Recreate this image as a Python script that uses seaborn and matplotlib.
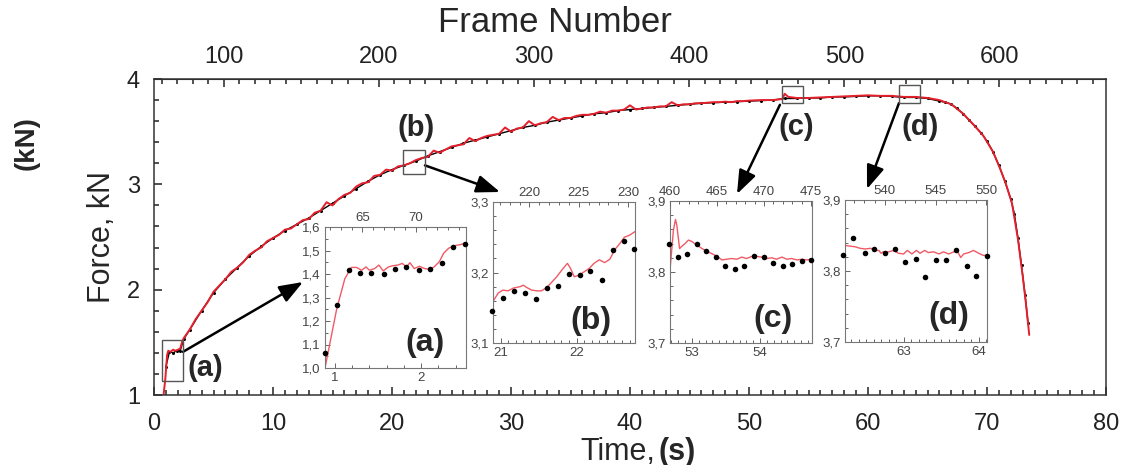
import seaborn as sns
import matplotlib.pyplot as plt
from matplotlib.patches import Rectangle
from matplotlib.ticker import MultipleLocator, FixedLocator, FuncFormatter

# ---- main curve: continuous force signal (red) ----
time_red = [0.80, 0.95, 1.10, 1.20, 1.40, 1.60, 1.80, 2.00, 2.20, 2.35,
            2.5, 3.0, 3.5, 4.0, 4.5, 5.0, 5.5, 6.0, 6.5, 7.0, 7.5, 8.0, 8.5, 9.0, 9.5,
            10.0, 10.5, 11.0, 11.5, 12.0, 12.5, 13.0, 13.5, 14.0, 14.5, 15.0, 15.5,
            16.0, 16.5, 17.0, 17.5, 18.0, 18.5, 19.0, 19.5, 20.0, 20.5, 21.0, 21.5,
            22.0, 22.5, 23.0, 23.5, 24.0, 24.5, 25.0, 25.5, 26.0, 26.5, 27.0, 27.5,
            28.0, 28.5, 29.0, 29.5, 30.0, 30.5, 31.0, 31.5, 32.0, 32.5, 33.0, 33.5,
            34.0, 34.5, 35.0, 35.5, 36.0, 36.5, 37.0, 37.5, 38.0, 38.5, 39.0, 39.5,
            40.0, 40.5, 41.0, 41.5, 42.0, 42.5, 43.0, 43.5, 44.0, 44.5, 45.0, 45.5,
            46.0, 46.5, 47.0, 47.5, 48.0, 48.5, 49.0, 49.5, 50.0, 51.0, 52.0, 52.8,
            53.0, 53.3, 54.0, 55.0, 56.0, 57.0, 58.0, 59.0, 60.0, 61.0, 62.0, 63.0,
            64.0, 65.0, 66.0, 67.0, 68.0, 69.0, 69.7, 70.5, 71.1, 71.6, 72.1, 72.6,
            73.0, 73.3, 73.55]
force_red = [1.00, 1.15, 1.38, 1.42, 1.41, 1.43, 1.42, 1.43, 1.44, 1.50,
             1.54, 1.62, 1.72, 1.80, 1.88, 1.98, 2.04, 2.10, 2.17, 2.21, 2.26, 2.33, 2.37, 2.40, 2.46,
             2.49, 2.52, 2.57, 2.58, 2.62, 2.66, 2.67, 2.73, 2.75, 2.83, 2.80, 2.86,
             2.90, 2.92, 2.98, 3.01, 3.02, 3.08, 3.09, 3.14, 3.13, 3.17, 3.18, 3.20,
             3.23, 3.25, 3.26, 3.32, 3.30, 3.33, 3.36, 3.37, 3.38, 3.44, 3.41, 3.44,
             3.46, 3.47, 3.48, 3.54, 3.50, 3.53, 3.54, 3.60, 3.56, 3.58, 3.59, 3.64,
             3.61, 3.63, 3.63, 3.65, 3.66, 3.66, 3.67, 3.69, 3.68, 3.70, 3.70, 3.71,
             3.75, 3.71, 3.72, 3.73, 3.73, 3.74, 3.74, 3.78, 3.75, 3.76, 3.76, 3.77,
             3.77, 3.775, 3.78, 3.78, 3.785, 3.78, 3.79, 3.79, 3.795, 3.80, 3.80, 3.81,
             3.86, 3.83, 3.82, 3.82, 3.825, 3.83, 3.835, 3.84, 3.845, 3.84, 3.84, 3.83,
             3.83, 3.82, 3.80, 3.76, 3.67, 3.55, 3.46, 3.31, 3.15, 3.00, 2.82, 2.48,
             2.13, 1.84, 1.57]

# ---- main curve: frame-by-frame force (black) ----
time_black = [1.0, 1.3, 1.6, 1.9, 2.2, 2.5, 3, 4, 5, 6, 7, 8, 9, 10, 11, 12, 13, 14, 15,
              16, 17, 18, 19, 20, 21, 22, 23, 24, 25, 26, 27, 28, 29, 30, 31, 32, 33,
              34, 35, 36, 37, 38, 39, 40, 41, 42, 43, 44, 45, 46, 47, 48, 49, 50, 51,
              52, 53, 54, 55, 56, 57, 58, 59, 60, 61, 62, 63, 64, 65, 66, 66.5, 67,
              67.5, 68, 68.5, 69, 69.5, 70, 70.5, 71, 71.5, 72, 72.3, 72.6, 72.9,
              73.2, 73.45]
force_black = [1.27, 1.41, 1.40, 1.42, 1.42, 1.53, 1.62, 1.80, 1.97, 2.10, 2.21, 2.32,
               2.41, 2.49, 2.56, 2.62, 2.68, 2.75, 2.82, 2.89, 2.96, 3.03, 3.09, 3.14,
               3.18, 3.22, 3.27, 3.31, 3.35, 3.39, 3.42, 3.45, 3.48, 3.51, 3.54, 3.56,
               3.59, 3.61, 3.63, 3.65, 3.67, 3.68, 3.70, 3.71, 3.72, 3.73, 3.74, 3.75,
               3.76, 3.77, 3.775, 3.78, 3.785, 3.79, 3.795, 3.80, 3.815, 3.815, 3.82,
               3.82, 3.83, 3.83, 3.835, 3.84, 3.84, 3.835, 3.825, 3.825, 3.815, 3.79,
               3.78, 3.76, 3.72, 3.67, 3.61, 3.55, 3.49, 3.41, 3.31, 3.18, 3.03, 2.86,
               2.72, 2.49, 2.23, 1.95, 1.68]

# ---- inset (a) ----
a_line_t = [0.885, 1.02, 1.115, 1.19, 1.25, 1.31, 1.36, 1.40, 1.46, 1.51, 1.56, 1.62,
            1.67, 1.73, 1.78, 1.83, 1.87, 1.92, 1.98, 2.04, 2.10, 2.15, 2.21, 2.26,
            2.32, 2.38, 2.44, 2.52]
a_line_f = [1.00, 1.25, 1.38, 1.428, 1.428, 1.416, 1.43, 1.416, 1.423, 1.438, 1.413,
            1.43, 1.435, 1.438, 1.445, 1.43, 1.448, 1.423, 1.433, 1.423, 1.42, 1.43,
            1.452, 1.488, 1.51, 1.52, 1.524, 1.531]
a_dot_t = [0.885, 1.02, 1.16, 1.29, 1.42, 1.57, 1.70, 1.83, 1.97, 2.10, 2.24, 2.37, 2.51]
a_dot_f = [1.065, 1.268, 1.416, 1.405, 1.405, 1.40, 1.42, 1.43, 1.416, 1.42, 1.445,
           1.514, 1.528]

# ---- inset (b) ----
b_line_t = [20.90, 20.97, 21.03, 21.10, 21.17, 21.26, 21.30, 21.34, 21.41, 21.48,
            21.54, 21.61, 21.68, 21.74, 21.81, 21.88, 21.92, 21.97, 22.03, 22.10,
            22.17, 22.23, 22.30, 22.37, 22.44, 22.50, 22.57, 22.63, 22.70, 22.77]
b_line_f = [3.159, 3.171, 3.175, 3.174, 3.178, 3.180, 3.182, 3.179, 3.175, 3.174,
            3.174, 3.179, 3.187, 3.194, 3.204, 3.213, 3.206, 3.194, 3.196, 3.201,
            3.206, 3.213, 3.218, 3.214, 3.219, 3.232, 3.241, 3.250, 3.253, 3.258]
b_dot_t = [20.89, 21.03, 21.18, 21.32, 21.47, 21.61, 21.76, 21.90, 22.04, 22.18,
           22.33, 22.48, 22.62, 22.76]
b_dot_f = [3.146, 3.164, 3.174, 3.171, 3.163, 3.178, 3.181, 3.198, 3.197, 3.202,
           3.189, 3.232, 3.244, 3.234]

# ---- inset (c) ----
c_line_t = [52.68, 52.71, 52.73, 52.76, 52.78, 52.82, 52.85, 52.90, 52.95, 53.00,
            53.07, 53.15, 53.22, 53.29, 53.37, 53.44, 53.51, 53.58, 53.66, 53.73,
            53.80, 53.88, 53.95, 54.02, 54.10, 54.17, 54.24, 54.32, 54.39, 54.46,
            54.54, 54.61, 54.68, 54.76]
c_line_f = [3.803, 3.836, 3.859, 3.874, 3.866, 3.833, 3.836, 3.840, 3.845, 3.843,
            3.838, 3.833, 3.829, 3.826, 3.822, 3.817, 3.818, 3.819, 3.818, 3.821,
            3.819, 3.822, 3.822, 3.821, 3.819, 3.820, 3.818, 3.821, 3.818, 3.819,
            3.817, 3.818, 3.817, 3.818]
c_dot_t = [52.66, 52.79, 52.93, 53.07, 53.21, 53.35, 53.49, 53.63, 53.77, 53.91,
           54.05, 54.19, 54.33, 54.47, 54.61, 54.75]
c_dot_f = [3.840, 3.821, 3.825, 3.839, 3.829, 3.821, 3.809, 3.804, 3.809, 3.823,
           3.821, 3.812, 3.809, 3.811, 3.815, 3.817]

# ---- inset (d) ----
d_line_t = [62.22, 62.29, 62.36, 62.42, 62.49, 62.56, 62.62, 62.67, 62.70, 62.73,
            62.80, 62.87, 62.93, 63.00, 63.05, 63.11, 63.17, 63.22, 63.28, 63.33,
            63.40, 63.47, 63.53, 63.60, 63.67, 63.71, 63.76, 63.80, 63.87, 63.93,
            64.00, 64.06, 64.11]
d_line_f = [3.836, 3.835, 3.834, 3.832, 3.831, 3.832, 3.829, 3.829, 3.825, 3.827,
            3.827, 3.829, 3.825, 3.824, 3.829, 3.824, 3.829, 3.825, 3.829, 3.826,
            3.827, 3.824, 3.827, 3.824, 3.827, 3.829, 3.819, 3.824, 3.826, 3.829,
            3.825, 3.822, 3.822]
d_dot_t = [62.20, 62.33, 62.48, 62.61, 62.75, 62.88, 63.02, 63.16, 63.29, 63.43,
           63.56, 63.70, 63.84, 63.97, 64.11]
d_dot_f = [3.822, 3.847, 3.825, 3.831, 3.826, 3.831, 3.812, 3.817, 3.792, 3.815,
           3.815, 3.829, 3.807, 3.793, 3.821]

frame_ticks = [100, 200, 300, 400, 500, 600]

# frame number <-> time (s) for the top axis
FPS = 7.67
T0 = 7.18

W, H = 1125, 465
RED = '#e3202c'
PINK = '#ef5a66'

sns.set_style('ticks')
plt.rcParams['font.family'] = ['Liberation Sans', 'DejaVu Sans']

fig = plt.figure(figsize=(W / 100, H / 100), dpi=100)


def fx(px):
    return px / W


def fy(py):
    return 1 - py / H


# main axes
ax = fig.add_axes([fx(154), fy(395), fx(1106) - fx(154), fy(79) - fy(395)])
sns.lineplot(x=time_black, y=force_black, ax=ax, color='black', lw=1.0,
             marker='o', markersize=2.2, markeredgewidth=0, estimator=None, sort=False)
sns.lineplot(x=time_red, y=force_red, ax=ax, color=RED, lw=1.4,
             estimator=None, sort=False)
ax.set_xlim(0, 80)
ax.set_ylim(1, 4)
ax.xaxis.set_major_locator(MultipleLocator(10))
ax.xaxis.set_minor_locator(MultipleLocator(1))
ax.yaxis.set_major_locator(MultipleLocator(1))
ax.yaxis.set_minor_locator(MultipleLocator(0.2))
ax.tick_params(which='both', direction='in', top=False, right=False,
               color='#222222', width=1.1)
ax.tick_params(which='major', length=6, labelsize=17, labelcolor='#222222')
ax.tick_params(which='minor', length=3.5)
ax.tick_params(axis='x', pad=13)
ax.tick_params(axis='y', pad=10)
for s in ax.spines.values():
    s.set_color('#333333')
    s.set_linewidth(1.1)

sec = ax.secondary_xaxis('top', functions=(lambda t: FPS * (t + T0),
                                           lambda f: f / FPS - T0))
sec.xaxis.set_major_locator(FixedLocator(frame_ticks))
sec.xaxis.set_minor_locator(MultipleLocator(10))
sec.tick_params(which='both', direction='in', color='#222222', width=1.1)
sec.tick_params(which='major', length=6, labelsize=17, labelcolor='#222222', pad=8)
sec.tick_params(which='minor', length=3.5)

# zoom boxes on the main curve
boxes = [(0.65, 1.13, 1.75, 0.39), (20.9, 3.10, 1.87, 0.23),
         (52.75, 3.77, 1.80, 0.16), (62.6, 3.77, 1.80, 0.17)]
for x0, y0, w, h in boxes:
    ax.add_patch(Rectangle((x0, y0), w, h, fill=False, ec='#555555', lw=1.0, zorder=5))

# axis titles
fig.text(fx(102), fy(237), 'Force, kN', rotation=90, ha='center', va='center', fontsize=22)
fig.text(fx(27), fy(143), '(kN)', rotation=90, ha='center', va='center',
         fontsize=20, fontweight='bold')
fig.text(fx(555), fy(22), 'Frame Number', ha='center', va='center', fontsize=25)
fig.text(fx(580), fy(460), 'Time,', ha='left', va='baseline', fontsize=22)
fig.text(fx(659), fy(460), '(s)', ha='left', va='baseline', fontsize=22, fontweight='bold')

# labels next to the boxes
for txt, px, py in [('(a)', 205, 368), ('(b)', 416, 128), ('(c)', 796, 127), ('(d)', 920, 127)]:
    fig.text(fx(px), fy(py), txt, ha='center', va='center', fontsize=21, fontweight='bold')

# arrows from boxes to insets
arrows = [((2.44, 1.41), (303, 282)), ((22.77, 3.18), (500, 192)),
          ((52.6, 3.755), (737, 194)), ((62.6, 3.77), (867, 189))]
for start, tip in arrows:
    ax.annotate('', xy=(fx(tip[0]), fy(tip[1])), xycoords='figure fraction',
                xytext=start, textcoords='data', annotation_clip=False,
                arrowprops=dict(arrowstyle='-|>,head_length=0.8,head_width=0.3',
                                color='black', lw=1.8, mutation_scale=18,
                                shrinkA=0, shrinkB=0))


def comma(v, pos):
    return f'{v:.1f}'.replace('.', ',')


def inset(box, xlim, ylim, flim, lt, lf, dt, df, xmaj, xmin, ymaj, ymin, fmaj,
          label, lxy):
    l, t, r, b = box
    ia = fig.add_axes([fx(l), fy(b), fx(r) - fx(l), fy(t) - fy(b)])
    sns.lineplot(x=lt, y=lf, ax=ia, color=PINK, lw=1.0, estimator=None, sort=False)
    sns.scatterplot(x=dt, y=df, ax=ia, color='black', s=16, linewidth=0,
                    zorder=5, clip_on=False)
    ia.set_xlim(*xlim)
    ia.set_ylim(*ylim)
    ia.xaxis.set_major_locator(MultipleLocator(xmaj))
    ia.xaxis.set_minor_locator(MultipleLocator(xmin))
    ia.yaxis.set_major_locator(MultipleLocator(ymaj))
    ia.yaxis.set_minor_locator(MultipleLocator(ymin))
    ia.yaxis.set_major_formatter(FuncFormatter(comma))
    ia.xaxis.set_major_formatter(FuncFormatter(lambda v, p: f'{v:g}'))
    ia.tick_params(which='both', direction='in', right=False, top=False,
                   color='#666666', width=0.7, labelsize=9.5, labelcolor='#444444', pad=3)
    ia.tick_params(which='major', length=3.5)
    ia.tick_params(which='minor', length=2)
    for s in ia.spines.values():
        s.set_color('#777777')
        s.set_linewidth(0.8)
    top = ia.twiny()
    top.set_xlim(*flim)
    top.xaxis.set_major_locator(MultipleLocator(fmaj))
    top.xaxis.set_minor_locator(MultipleLocator(1))
    top.tick_params(which='both', direction='in', color='#666666', width=0.7,
                    labelsize=9.5, labelcolor='#444444', pad=2)
    top.tick_params(which='major', length=3.5)
    top.tick_params(which='minor', length=2)
    for s in top.spines.values():
        s.set_visible(False)
    fig.text(fx(lxy[0]), fy(lxy[1]), label, ha='center', va='center',
             fontsize=23, fontweight='bold')


inset((325, 227, 466, 368), (0.885, 2.52), (1.0, 1.6), (61.5, 74.7),
      a_line_t, a_line_f, a_dot_t, a_dot_f, 1, 0.2, 0.1, 0.05, 5, '(a)', (425, 343))
inset((493, 202, 635, 343), (20.9, 22.77), (3.1, 3.3), (216.3, 230.7),
      b_line_t, b_line_f, b_dot_t, b_dot_f, 1, 0.1, 0.1, 0.02, 5, '(b)', (591, 321))
inset((670, 201, 812, 343), (52.68, 54.76), (3.7, 3.9), (460.0, 475.1),
      c_line_t, c_line_f, c_dot_t, c_dot_f, 1, 0.1, 0.1, 0.02, 5, '(c)', (773, 319))
inset((845, 200, 987, 342), (62.22, 64.11), (3.7, 3.9), (536.1, 550.05),
      d_line_t, d_line_f, d_dot_t, d_dot_f, 1, 0.1, 0.1, 0.02, 5, '(d)', (949, 316))

plt.savefig('out.png', dpi=100)
